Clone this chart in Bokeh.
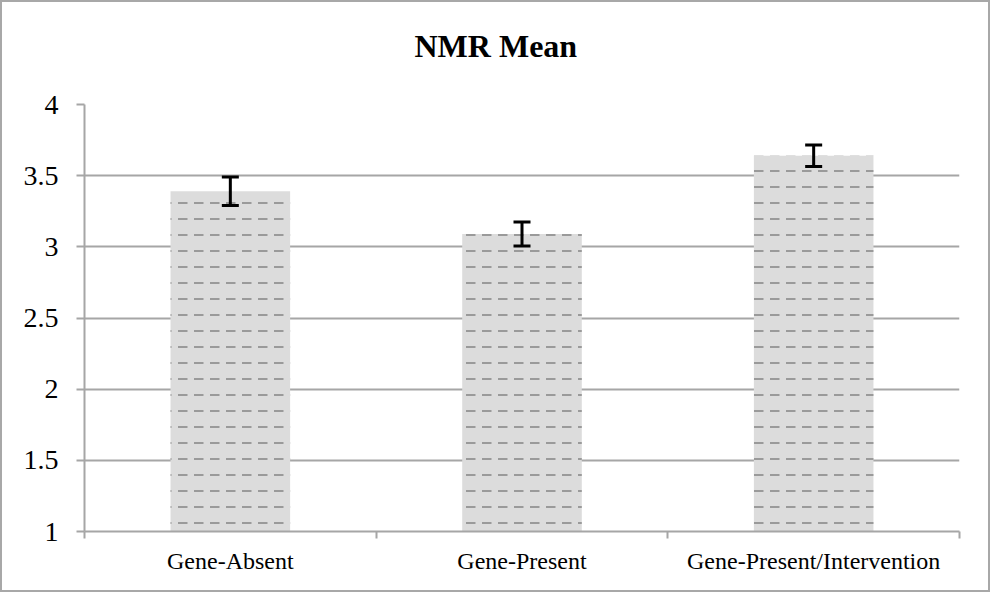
from bokeh.plotting import figure
from bokeh.models import FixedTicker, Whisker, ColumnDataSource, TeeHead, Range1d, Title
from bokeh.embed import file_html
from bokeh.resources import INLINE

title_text = "NMR Mean"
categories = ["Gene-Absent", "Gene-Present", "Gene-Present/Intervention"]
means = [3.39, 3.09, 3.64]
errors = [0.10, 0.085, 0.075]
y_ticks = [1, 1.5, 2, 2.5, 3, 3.5, 4]
y_tick_labels = ["1", "1.5", "2", "2.5", "3", "3.5", "4"]

xs = [i + 0.5 for i in range(len(categories))]
src = ColumnDataSource(dict(
    x=xs, top=means,
    upper=[m + e for m, e in zip(means, errors)],
    lower=[m - e for m, e in zip(means, errors)],
))

FONT = "Liberation Serif"
GRAY = "#a6a6a6"

p = figure(width=990, height=592, output_backend="svg", toolbar_location=None,
           x_range=Range1d(0, len(categories)), y_range=Range1d(1, 4),
           min_border_left=82, min_border_right=33, min_border_top=102, min_border_bottom=63)
p.styles = {"border": "2px solid #a8a8a8"}

p.title.text = title_text
p.title.text_font = FONT
p.title.text_font_size = "32px"
p.title.text_font_style = "bold"
p.title.align = "left"
p.title.offset = 330
p.title.standoff = 0
p.title.text_color = "#000000"
# blank spacer between the title and the plot frame
p.add_layout(Title(text=" ", standoff=38, text_font_size="1px"), "above")

p.outline_line_color = None
p.xgrid.grid_line_color = None
p.ygrid.grid_line_color = GRAY
p.ygrid.grid_line_width = 2

p.vbar(x="x", top="top", bottom=1, width=0.41, source=src,
       fill_color="#dcdcdc", line_color=None,
       hatch_pattern="horizontal_dash", hatch_color="#9a9a9a", hatch_scale=16, hatch_weight=2)

w = Whisker(base="x", upper="upper", lower="lower", source=src,
            line_color="black", line_width=3, level="overlay",
            upper_head=TeeHead(size=17, line_width=3, line_color="black"),
            lower_head=TeeHead(size=17, line_width=3, line_color="black"))
p.add_layout(w)

# x axis: labels at category centres, tick marks at boundaries
p.xaxis.ticker = FixedTicker(ticks=xs, minor_ticks=list(range(len(categories) + 1)))
p.xaxis.major_label_overrides = {x: c for x, c in zip(xs, categories)}
p.xaxis.major_tick_out = 0
p.xaxis.major_tick_in = 0
p.xaxis.minor_tick_out = 7
p.xaxis.minor_tick_in = 0
p.xaxis.minor_tick_line_color = GRAY
p.xaxis.minor_tick_line_width = 2
p.xaxis.axis_line_color = GRAY
p.xaxis.axis_line_width = 2
p.xaxis.major_label_text_font = FONT
p.xaxis.major_label_text_font_size = "24px"
p.xaxis.major_label_text_color = "#000000"
p.xaxis.major_label_standoff = 9

p.yaxis.ticker = FixedTicker(ticks=y_ticks)
p.yaxis.major_label_overrides = {t: l for t, l in zip(y_ticks, y_tick_labels)}
p.yaxis.major_tick_out = 8
p.yaxis.major_tick_in = 0
p.yaxis.major_tick_line_color = GRAY
p.yaxis.major_tick_line_width = 2
p.yaxis.minor_tick_line_color = None
p.yaxis.axis_line_color = GRAY
p.yaxis.axis_line_width = 2
p.yaxis.major_label_text_font = FONT
p.yaxis.major_label_text_font_size = "28px"
p.yaxis.major_label_text_color = "#000000"
p.yaxis.major_label_standoff = 18

open("out.html", "w").write(file_html(p, INLINE))
